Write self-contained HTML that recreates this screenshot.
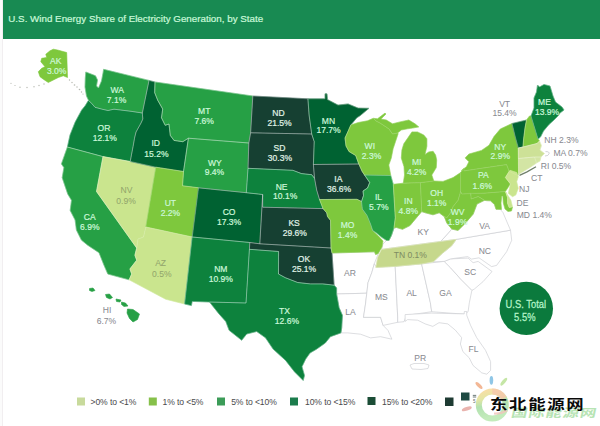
<!DOCTYPE html>
<html><head><meta charset="utf-8"><title>U.S. Wind Energy Share</title>
<style>
html,body{margin:0;padding:0;background:#fff;}
body{width:600px;height:426px;overflow:hidden;position:relative;font-family:"Liberation Sans",sans-serif;}
#hdr{position:absolute;left:3px;top:0;width:597px;height:38.5px;background:#188a52;}
#ttl{position:absolute;left:8.3px;top:12.6px;font-size:9.8px;color:#c8f8d8;white-space:nowrap;letter-spacing:0px;line-height:12px;-webkit-text-stroke:0.22px #c8f8d8;}
#edge{position:absolute;left:0;top:0;width:3px;height:426px;background:#fbfbfb;border-right:1px solid #f1eef0;box-sizing:border-box;}
svg{position:absolute;left:0;top:0;}
.l{font-family:"Liberation Sans",sans-serif;font-size:9.5px;text-anchor:middle;}
.lg{font-family:"Liberation Sans",sans-serif;font-size:8.6px;fill:#4a4a4c;letter-spacing:-0.1px;}
</style></head><body>
<div id="edge"></div>
<div id="hdr"></div>
<div id="ttl">U.S. Wind Energy Share of Electricity Generation, by State</div>
<svg width="600" height="426" viewBox="0 0 600 426">
<defs><filter id="soft" x="0" y="0" width="100%" height="100%" filterUnits="userSpaceOnUse"><feGaussianBlur stdDeviation="0.35"/></filter></defs>
<g id="map" filter="url(#soft)">
<polygon points="332.0,253.0 374.5,251.8 375.6,254.5 378.3,253.5 374.3,263.8 371.8,272.6 368.0,282.7 366.8,293.2 336.6,294.0 336.6,288.0 334.1,285.2" fill="#fff" stroke="#c6c8cc" stroke-width="0.6" stroke-linejoin="round"/>
<polygon points="336.6,294.0 366.8,293.2 365.5,304.0 363.5,317.3 380.6,317.3 383.1,325.4 388.0,330.4 391.9,339.2 380.6,336.7 370.6,337.9 360.5,334.2 347.9,332.9 340.9,332.9 341.7,327.9 342.4,315.3 339.1,307.8" fill="#fff" stroke="#c6c8cc" stroke-width="0.6" stroke-linejoin="round"/>
<polygon points="376.5,267.2 395.2,266.4 397.7,317.0 397.7,322.3 383.1,325.4 380.6,317.3 363.5,317.3 365.5,304.0 366.8,293.2 368.0,282.7 371.8,272.6 374.3,263.8" fill="#fff" stroke="#c6c8cc" stroke-width="0.6" stroke-linejoin="round"/>
<polygon points="395.2,266.4 421.6,263.9 430.4,302.9 431.7,311.7 406.5,315.4 404.0,321.7 397.7,322.3 397.7,317.0" fill="#fff" stroke="#c6c8cc" stroke-width="0.6" stroke-linejoin="round"/>
<polygon points="421.6,263.9 444.2,261.4 450.5,267.7 460.6,279.0 468.1,286.5 471.9,290.3 469.3,302.9 468.1,311.7 464.3,314.2 431.7,311.7 430.4,302.9" fill="#fff" stroke="#c6c8cc" stroke-width="0.6" stroke-linejoin="round"/>
<polygon points="405.1,314.6 431.5,313.1 464.2,313.9 464.3,311.5 466.7,311.5 466.7,315.1 470.5,325.2 476.7,337.7 485.5,350.3 490.6,361.6 490.6,370.4 486.8,374.2 481.8,372.9 473.0,365.4 469.2,357.8 462.9,351.6 460.4,344.0 461.7,337.7 455.4,330.2 447.8,323.9 439.0,322.7 432.8,326.4 425.2,323.9 417.7,320.2 407.6,319.6 405.1,321.4" fill="#fff" stroke="#c6c8cc" stroke-width="0.6" stroke-linejoin="round"/>
<polygon points="444.2,261.4 450.5,258.9 468.1,258.1 473.1,262.7 478.1,261.4 492.0,271.5 483.2,281.5 474.4,289.0 471.9,290.3 468.1,286.5 460.6,279.0 450.5,267.7" fill="#fff" stroke="#c6c8cc" stroke-width="0.6" stroke-linejoin="round"/>
<polygon points="456.2,239.4 510.5,230.2 511.7,240.3 506.7,251.6 496.6,265.4 491.6,266.6 479.0,257.8 471.5,259.1 467.7,256.6 450.5,258.9 444.2,261.4 433.3,261.8 442.5,253.2 451.7,245.8" fill="#fff" stroke="#c6c8cc" stroke-width="0.6" stroke-linejoin="round"/>
<polygon points="456.2,239.4 510.5,230.2 507.0,222.0 503.0,212.6 500.0,209.0 496.0,209.3 494.5,204.5 490.5,200.8 486.0,200.6 484.5,200.3 477.0,204.0 473.2,214.1 465.6,222.9 458.1,230.4 451.8,229.1 440.7,241.5" fill="#fff" stroke="#c6c8cc" stroke-width="0.6" stroke-linejoin="round"/>
<polygon points="386.5,240.5 389.0,240.5 391.5,235.4 394.0,227.9 396.5,227.5 402.5,229.3 410.0,225.5 415.4,219.0 421.7,211.6 425.4,212.8 433.0,214.8 439.2,212.8 444.3,216.6 446.8,222.9 451.8,229.1 440.7,241.5 415.0,244.9 381.5,249.4 383.0,244.0" fill="#fff" stroke="#c6c8cc" stroke-width="0.6" stroke-linejoin="round"/>
<polygon points="410.0,365.0 414.0,363.5 424.0,363.5 429.0,365.0 428.0,368.5 421.0,369.5 412.0,369.0" fill="#fff" stroke="#c6c8cc" stroke-width="0.6" stroke-linejoin="round"/>
<polyline points="519.5,175.3 527.0,171.8 536.0,166.8" fill="none" stroke="#6f7f6a" stroke-width="1.3"/>
<polygon points="85.8,72.0 91.0,74.0 95.5,75.8 97.5,80.0 96.5,86.0 98.5,88.0 101.5,81.0 103.2,72.0 103.6,69.3 149.0,80.4 142.3,113.0 131.0,111.3 123.0,110.3 114.0,109.2 108.0,110.5 102.5,109.3 95.0,107.3 92.0,103.8 88.5,100.3 86.5,96.0 85.0,87.0 85.3,78.0" fill="#27a045" stroke="#27a045" stroke-width="0.6" stroke-linejoin="round"/>
<polygon points="88.5,100.3 92.0,103.8 95.0,107.3 102.5,109.3 108.0,110.5 114.0,109.2 123.0,110.3 131.0,111.3 142.3,113.0 142.8,119.0 141.0,123.0 136.0,132.0 134.5,138.0 133.5,144.0 130.2,161.5 103.0,156.6 67.4,147.0 70.0,135.0 75.2,122.0 81.7,110.0 85.0,106.0" fill="#09823d" stroke="#09823d" stroke-width="0.6" stroke-linejoin="round"/>
<polygon points="67.4,147.0 103.0,156.6 96.5,191.5 136.7,248.0 134.9,255.2 136.7,260.2 129.9,269.0 131.7,274.0 129.1,279.8 107.8,274.0 104.0,265.3 99.0,252.7 87.7,245.2 81.4,240.1 76.4,230.0 75.1,220.0 70.2,210.4 71.5,200.3 67.7,194.0 62.2,177.7 63.9,167.6 61.4,163.9" fill="#27a045" stroke="#27a045" stroke-width="0.6" stroke-linejoin="round"/>
<polygon points="103.0,156.6 130.2,161.5 155.8,167.2 145.8,227.0 143.5,237.1 138.0,238.9 136.7,248.0 96.5,191.5" fill="#cae58e" stroke="#cae58e" stroke-width="0.6" stroke-linejoin="round"/>
<polygon points="149.0,80.4 155.0,82.0 154.7,92.7 157.7,100.2 162.7,109.0 161.5,117.8 165.2,125.3 169.0,124.0 170.3,135.4 174.0,140.4 182.8,141.7 188.4,138.2 183.5,171.5 155.8,167.2 130.2,161.5 133.5,144.0 134.5,138.0 136.0,132.0 141.0,123.0 142.8,119.0 142.3,113.0" fill="#066231" stroke="#066231" stroke-width="0.6" stroke-linejoin="round"/>
<polygon points="155.0,82.0 252.8,96.0 250.6,132.8 248.8,143.0 188.4,138.2 182.8,141.7 174.0,140.4 170.3,135.4 169.0,124.0 165.2,125.3 161.5,117.8 162.7,109.0 157.7,100.2 154.7,92.7" fill="#27a045" stroke="#27a045" stroke-width="0.6" stroke-linejoin="round"/>
<polygon points="188.4,138.2 248.8,143.0 248.0,168.3 246.3,192.7 198.5,187.8 182.5,185.8 183.5,171.5" fill="#27a045" stroke="#27a045" stroke-width="0.6" stroke-linejoin="round"/>
<polygon points="155.8,167.2 183.5,171.5 182.5,185.8 198.5,187.8 192.2,237.0 145.8,227.0" fill="#7ec83c" stroke="#7ec83c" stroke-width="0.6" stroke-linejoin="round"/>
<polygon points="198.5,187.8 246.3,192.7 262.7,194.5 259.8,243.8 249.8,242.5 192.2,237.0" fill="#066231" stroke="#066231" stroke-width="0.6" stroke-linejoin="round"/>
<polygon points="145.8,227.0 192.2,237.0 184.6,304.0 165.6,299.2 129.1,279.8 131.7,274.0 129.9,269.0 136.7,260.2 134.9,255.2 136.7,248.0 138.0,238.9 143.5,237.1" fill="#cae58e" stroke="#cae58e" stroke-width="0.6" stroke-linejoin="round"/>
<polygon points="192.2,237.0 249.8,242.5 249.4,249.3 246.0,303.0 209.5,302.0 192.2,301.4 191.4,305.6 184.6,304.0" fill="#09823d" stroke="#09823d" stroke-width="0.6" stroke-linejoin="round"/>
<polygon points="252.8,96.0 307.9,98.8 309.1,115.2 311.7,134.0 250.6,132.8" fill="#154032" stroke="#154032" stroke-width="0.6" stroke-linejoin="round"/>
<polygon points="250.6,132.8 311.7,134.0 314.2,141.6 313.4,164.5 314.5,178.3 311.7,174.7 301.5,173.6 292.8,170.3 248.0,168.3 248.8,143.0" fill="#154032" stroke="#154032" stroke-width="0.6" stroke-linejoin="round"/>
<polygon points="248.0,168.3 292.8,170.3 301.5,173.6 311.7,174.7 314.5,178.3 316.7,190.2 319.5,199.5 323.0,208.6 262.7,207.2 262.7,194.5 246.3,192.7" fill="#09823d" stroke="#09823d" stroke-width="0.6" stroke-linejoin="round"/>
<polygon points="262.7,207.2 323.0,208.6 326.7,212.8 327.5,216.6 330.5,220.4 331.0,248.0 259.8,243.8 262.7,194.5" fill="#154032" stroke="#154032" stroke-width="0.6" stroke-linejoin="round"/>
<polygon points="249.8,242.5 259.8,243.8 331.0,248.0 332.0,253.0 334.1,285.2 322.8,283.9 310.3,283.9 297.7,282.5 285.3,277.7 278.5,274.0 278.6,251.5 249.4,249.3" fill="#154032" stroke="#154032" stroke-width="0.6" stroke-linejoin="round"/>
<polygon points="249.4,249.3 278.6,251.5 278.5,274.0 285.3,277.7 297.7,282.5 310.3,283.9 322.8,283.9 334.1,285.2 336.6,288.0 336.6,294.0 339.1,307.8 342.4,315.3 341.7,327.9 340.9,332.9 330.4,336.7 325.3,343.0 316.5,349.2 310.0,353.0 305.7,359.1 302.0,366.7 304.5,375.5 303.2,380.5 294.4,371.7 285.6,360.4 273.1,349.1 265.5,337.8 256.7,331.5 246.7,334.0 241.7,340.3 229.1,330.3 225.8,321.5 219.0,313.9 209.5,302.0 246.0,303.0" fill="#09823d" stroke="#09823d" stroke-width="0.6" stroke-linejoin="round"/>
<polygon points="307.9,98.8 325.0,98.8 325.0,93.8 327.0,93.8 327.5,99.6 338.0,105.1 348.1,103.9 358.1,108.1 369.0,108.3 360.0,115.8 356.9,117.7 350.8,125.0 348.3,130.8 345.0,138.0 346.0,146.0 349.0,151.5 355.7,155.5 358.8,164.0 313.4,164.5 314.2,141.6 311.7,134.0 309.1,115.2" fill="#066231" stroke="#066231" stroke-width="0.6" stroke-linejoin="round"/>
<polygon points="313.4,164.5 358.8,164.0 362.2,171.5 369.7,182.5 367.5,188.0 363.0,191.0 363.5,195.5 361.5,201.5 357.0,199.3 319.5,199.5 316.7,190.2 314.5,178.3" fill="#154032" stroke="#154032" stroke-width="0.6" stroke-linejoin="round"/>
<polygon points="319.5,199.5 357.0,199.3 361.5,201.5 362.3,209.0 366.9,215.3 370.5,224.0 372.4,230.4 378.5,236.0 383.0,241.0 382.0,247.0 378.3,253.5 375.6,254.5 374.5,251.8 332.0,253.0 331.0,248.0 330.5,220.4 327.5,216.6 326.7,212.8 323.0,208.6" fill="#7ec83c" stroke="#7ec83c" stroke-width="0.6" stroke-linejoin="round"/>
<polygon points="350.8,125.0 358.3,122.5 367.5,120.8 373.3,118.3 376.0,121.0 380.0,123.0 389.0,128.9 392.5,134.0 397.5,133.1 398.2,133.5 395.6,141.3 393.1,148.8 391.3,158.0 388.8,165.0 390.8,175.5 364.5,175.0 362.2,171.5 358.8,164.0 355.7,155.5 349.0,151.5 346.0,146.0 345.0,138.0 348.3,130.8" fill="#7ec83c" stroke="#7ec83c" stroke-width="0.6" stroke-linejoin="round"/>
<polygon points="373.3,118.3 377.5,118.8 385.0,113.1 386.0,114.0 381.0,119.0 386.3,120.0 392.5,123.8 400.0,121.9 408.8,120.0 415.0,123.8 418.8,126.9 412.5,128.1 407.5,128.8 401.3,130.0 397.5,133.1 392.5,134.0 389.0,128.9 380.0,123.0 376.0,121.0" fill="#7ec83c" stroke="#7ec83c" stroke-width="0.6" stroke-linejoin="round"/>
<polygon points="411.9,131.9 417.5,131.9 423.8,135.0 426.9,138.8 426.9,146.3 425.0,154.4 428.8,151.9 433.1,151.3 435.6,155.0 436.7,160.0 436.3,167.6 431.8,175.0 433.8,181.0 420.4,182.7 403.3,183.0 404.5,175.0 404.0,166.7 401.3,158.0 401.9,150.0 403.8,143.8 408.1,137.5" fill="#7ec83c" stroke="#7ec83c" stroke-width="0.6" stroke-linejoin="round"/>
<polygon points="364.5,175.0 390.8,175.5 393.3,184.3 395.3,217.8 394.0,227.9 391.5,235.4 389.0,240.5 386.5,240.5 382.0,237.6 376.5,233.0 372.7,230.4 370.5,224.0 366.9,215.3 362.3,209.0 361.5,201.5 363.5,195.5 363.0,191.0 367.5,188.0 369.7,182.5" fill="#27a045" stroke="#27a045" stroke-width="0.6" stroke-linejoin="round"/>
<polygon points="393.3,184.3 403.3,183.2 420.4,182.7 421.7,211.6 415.4,219.0 410.0,225.5 402.5,229.3 396.5,227.5 394.0,227.9 395.3,217.8" fill="#7ec83c" stroke="#7ec83c" stroke-width="0.6" stroke-linejoin="round"/>
<polygon points="420.4,182.7 433.8,181.0 443.0,181.4 453.1,177.6 460.6,172.6 460.6,191.5 458.1,200.3 453.1,206.5 450.6,212.8 446.8,217.8 444.3,216.6 439.2,212.8 433.0,214.8 425.4,212.8 421.7,211.6" fill="#7ec83c" stroke="#7ec83c" stroke-width="0.6" stroke-linejoin="round"/>
<polygon points="460.6,191.5 461.8,194.0 470.7,193.2 471.2,199.0 478.2,196.5 484.5,200.3 477.0,204.0 473.2,214.1 465.6,222.9 458.1,230.4 451.8,229.1 446.8,222.9 444.3,216.6 446.8,217.8 450.6,212.8 453.1,206.5 458.1,200.3" fill="#7ec83c" stroke="#7ec83c" stroke-width="0.6" stroke-linejoin="round"/>
<polygon points="460.6,172.6 463.9,168.5 464.5,170.8 506.6,164.6 509.1,171.4 505.4,177.6 510.4,183.9 505.4,191.5 484.0,193.2 461.8,194.0 460.6,191.5" fill="#7ec83c" stroke="#7ec83c" stroke-width="0.6" stroke-linejoin="round"/>
<polygon points="461.4,170.5 466.4,166.7 468.9,161.7 465.1,157.9 468.9,154.1 481.5,150.4 489.0,145.3 494.0,136.5 500.3,129.0 512.0,123.5 515.0,136.0 518.3,148.0 518.4,158.5 518.5,174.5 517.9,175.5 509.1,171.4 506.6,164.6 464.5,170.8" fill="#7ec83c" stroke="#7ec83c" stroke-width="0.6" stroke-linejoin="round"/>
<polygon points="510.0,170.3 516.7,172.5 518.3,176.7 516.7,181.7 518.3,188.3 515.8,195.0 512.5,196.7 508.3,193.3 510.4,183.9 505.4,177.6 509.1,171.4" fill="#cae58e" stroke="#cae58e" stroke-width="0.6" stroke-linejoin="round"/>
<polygon points="484.0,193.2 505.4,191.5 507.5,197.5 507.5,203.3 509.2,207.5 512.5,207.0 511.5,211.0 508.0,211.5 505.0,209.0 503.3,203.0 502.8,196.0 501.8,196.0 501.0,203.0 501.5,209.5 496.0,209.3 494.5,204.5 490.5,200.8 486.0,200.6 484.5,200.3 478.2,196.5 471.2,199.0 470.7,193.2" fill="#7ec83c" stroke="#7ec83c" stroke-width="0.6" stroke-linejoin="round"/>
<polygon points="505.4,191.5 507.5,195.0 510.8,200.0 512.5,206.7 509.2,207.5 507.5,203.3 507.5,197.5" fill="#cae58e" stroke="#cae58e" stroke-width="0.6" stroke-linejoin="round"/>
<polygon points="512.0,123.5 526.5,120.0 525.0,128.0 523.5,140.0 523.0,147.0 518.3,148.0 515.0,136.0" fill="#066231" stroke="#066231" stroke-width="0.6" stroke-linejoin="round"/>
<polygon points="526.5,120.0 529.5,116.0 531.0,116.0 538.0,139.0 539.5,141.0 537.0,143.5 523.0,147.0 523.5,140.0 525.0,128.0" fill="#7ec83c" stroke="#7ec83c" stroke-width="0.6" stroke-linejoin="round"/>
<polygon points="531.0,116.0 534.0,108.0 534.0,98.0 536.5,92.0 537.5,85.0 539.5,87.0 544.0,84.5 550.0,86.0 553.0,96.0 555.5,102.0 562.0,107.0 564.0,110.0 560.0,113.0 558.0,116.0 554.0,120.0 549.0,124.5 543.5,131.0 540.5,137.0 538.0,139.0" fill="#09823d" stroke="#09823d" stroke-width="0.6" stroke-linejoin="round"/>
<polygon points="518.3,148.0 523.0,147.0 537.0,143.5 539.5,141.0 541.5,145.5 540.0,150.0 544.5,153.5 541.0,157.0 534.5,157.0 518.4,158.5" fill="#cde197" stroke="#cde197" stroke-width="0.6" stroke-linejoin="round"/>
<polygon points="518.4,158.5 534.5,157.0 536.5,163.0 530.0,167.5 525.0,170.5 518.5,174.5" fill="#d3e5a4" stroke="#d3e5a4" stroke-width="0.6" stroke-linejoin="round"/>
<polygon points="534.5,157.0 541.0,157.0 540.0,161.0 536.5,163.0" fill="#d3e5a4" stroke="#d3e5a4" stroke-width="0.6" stroke-linejoin="round"/>
<polygon points="375.8,267.5 377.6,257.6 381.5,249.4 415.0,244.9 456.2,239.4 451.7,245.8 442.5,253.2 433.3,261.8 421.6,263.9 395.2,266.4" fill="#c6d88c" stroke="#c6d88c" stroke-width="0.6" stroke-linejoin="round"/>
<polygon points="89.5,288.5 93.0,288.0 95.0,290.5 92.0,291.5 89.5,290.5" fill="#27a045" stroke="#27a045" stroke-width="0.6" stroke-linejoin="round"/>
<polygon points="105.5,294.5 109.5,294.0 112.5,297.5 110.0,299.0 106.5,297.5" fill="#27a045" stroke="#27a045" stroke-width="0.6" stroke-linejoin="round"/>
<polygon points="116.0,299.0 121.0,300.0 120.0,302.0 116.5,301.5" fill="#27a045" stroke="#27a045" stroke-width="0.6" stroke-linejoin="round"/>
<polygon points="121.5,302.0 125.5,303.0 128.0,306.0 124.0,306.5 121.5,304.5" fill="#27a045" stroke="#27a045" stroke-width="0.6" stroke-linejoin="round"/>
<polygon points="127.5,309.0 133.0,309.5 139.5,314.0 137.5,319.5 133.0,322.0 129.5,318.5 127.0,313.0" fill="#27a045" stroke="#27a045" stroke-width="0.6" stroke-linejoin="round"/>
<polygon points="53.3,49.2 57.5,50.0 66.7,52.5 67.5,77.5 63.3,75.8 58.3,77.5 53.3,80.0 48.3,82.5 43.3,79.2 40.0,76.7 38.3,71.7 41.7,68.3 45.0,66.7 40.8,61.7 41.7,58.3 46.7,57.5 45.8,54.2 50.0,50.8" fill="#7ec83c" stroke="#7ec83c" stroke-width="0.6" stroke-linejoin="round"/>
<polygon points="85.8,72.0 91.0,74.0 95.5,75.8 97.5,80.0 96.5,86.0 98.5,88.0 101.5,81.0 103.2,72.0 103.6,69.3 149.0,80.4 142.3,113.0 131.0,111.3 123.0,110.3 114.0,109.2 108.0,110.5 102.5,109.3 95.0,107.3 92.0,103.8 88.5,100.3 86.5,96.0 85.0,87.0 85.3,78.0" fill="none" stroke="#ffffff" stroke-opacity="0.36" stroke-width="0.7" stroke-linejoin="round"/>
<polygon points="88.5,100.3 92.0,103.8 95.0,107.3 102.5,109.3 108.0,110.5 114.0,109.2 123.0,110.3 131.0,111.3 142.3,113.0 142.8,119.0 141.0,123.0 136.0,132.0 134.5,138.0 133.5,144.0 130.2,161.5 103.0,156.6 67.4,147.0 70.0,135.0 75.2,122.0 81.7,110.0 85.0,106.0" fill="none" stroke="#ffffff" stroke-opacity="0.36" stroke-width="0.7" stroke-linejoin="round"/>
<polygon points="67.4,147.0 103.0,156.6 96.5,191.5 136.7,248.0 134.9,255.2 136.7,260.2 129.9,269.0 131.7,274.0 129.1,279.8 107.8,274.0 104.0,265.3 99.0,252.7 87.7,245.2 81.4,240.1 76.4,230.0 75.1,220.0 70.2,210.4 71.5,200.3 67.7,194.0 62.2,177.7 63.9,167.6 61.4,163.9" fill="none" stroke="#ffffff" stroke-opacity="0.36" stroke-width="0.7" stroke-linejoin="round"/>
<polygon points="103.0,156.6 130.2,161.5 155.8,167.2 145.8,227.0 143.5,237.1 138.0,238.9 136.7,248.0 96.5,191.5" fill="none" stroke="#ffffff" stroke-opacity="0.13" stroke-width="0.7" stroke-linejoin="round"/>
<polygon points="149.0,80.4 155.0,82.0 154.7,92.7 157.7,100.2 162.7,109.0 161.5,117.8 165.2,125.3 169.0,124.0 170.3,135.4 174.0,140.4 182.8,141.7 188.4,138.2 183.5,171.5 155.8,167.2 130.2,161.5 133.5,144.0 134.5,138.0 136.0,132.0 141.0,123.0 142.8,119.0 142.3,113.0" fill="none" stroke="#ffffff" stroke-opacity="0.36" stroke-width="0.7" stroke-linejoin="round"/>
<polygon points="155.0,82.0 252.8,96.0 250.6,132.8 248.8,143.0 188.4,138.2 182.8,141.7 174.0,140.4 170.3,135.4 169.0,124.0 165.2,125.3 161.5,117.8 162.7,109.0 157.7,100.2 154.7,92.7" fill="none" stroke="#ffffff" stroke-opacity="0.36" stroke-width="0.7" stroke-linejoin="round"/>
<polygon points="188.4,138.2 248.8,143.0 248.0,168.3 246.3,192.7 198.5,187.8 182.5,185.8 183.5,171.5" fill="none" stroke="#ffffff" stroke-opacity="0.36" stroke-width="0.7" stroke-linejoin="round"/>
<polygon points="155.8,167.2 183.5,171.5 182.5,185.8 198.5,187.8 192.2,237.0 145.8,227.0" fill="none" stroke="#ffffff" stroke-opacity="0.13" stroke-width="0.7" stroke-linejoin="round"/>
<polygon points="198.5,187.8 246.3,192.7 262.7,194.5 259.8,243.8 249.8,242.5 192.2,237.0" fill="none" stroke="#ffffff" stroke-opacity="0.36" stroke-width="0.7" stroke-linejoin="round"/>
<polygon points="145.8,227.0 192.2,237.0 184.6,304.0 165.6,299.2 129.1,279.8 131.7,274.0 129.9,269.0 136.7,260.2 134.9,255.2 136.7,248.0 138.0,238.9 143.5,237.1" fill="none" stroke="#ffffff" stroke-opacity="0.13" stroke-width="0.7" stroke-linejoin="round"/>
<polygon points="192.2,237.0 249.8,242.5 249.4,249.3 246.0,303.0 209.5,302.0 192.2,301.4 191.4,305.6 184.6,304.0" fill="none" stroke="#ffffff" stroke-opacity="0.36" stroke-width="0.7" stroke-linejoin="round"/>
<polygon points="252.8,96.0 307.9,98.8 309.1,115.2 311.7,134.0 250.6,132.8" fill="none" stroke="#ffffff" stroke-opacity="0.36" stroke-width="0.7" stroke-linejoin="round"/>
<polygon points="250.6,132.8 311.7,134.0 314.2,141.6 313.4,164.5 314.5,178.3 311.7,174.7 301.5,173.6 292.8,170.3 248.0,168.3 248.8,143.0" fill="none" stroke="#ffffff" stroke-opacity="0.36" stroke-width="0.7" stroke-linejoin="round"/>
<polygon points="248.0,168.3 292.8,170.3 301.5,173.6 311.7,174.7 314.5,178.3 316.7,190.2 319.5,199.5 323.0,208.6 262.7,207.2 262.7,194.5 246.3,192.7" fill="none" stroke="#ffffff" stroke-opacity="0.36" stroke-width="0.7" stroke-linejoin="round"/>
<polygon points="262.7,207.2 323.0,208.6 326.7,212.8 327.5,216.6 330.5,220.4 331.0,248.0 259.8,243.8 262.7,194.5" fill="none" stroke="#ffffff" stroke-opacity="0.36" stroke-width="0.7" stroke-linejoin="round"/>
<polygon points="249.8,242.5 259.8,243.8 331.0,248.0 332.0,253.0 334.1,285.2 322.8,283.9 310.3,283.9 297.7,282.5 285.3,277.7 278.5,274.0 278.6,251.5 249.4,249.3" fill="none" stroke="#ffffff" stroke-opacity="0.36" stroke-width="0.7" stroke-linejoin="round"/>
<polygon points="249.4,249.3 278.6,251.5 278.5,274.0 285.3,277.7 297.7,282.5 310.3,283.9 322.8,283.9 334.1,285.2 336.6,288.0 336.6,294.0 339.1,307.8 342.4,315.3 341.7,327.9 340.9,332.9 330.4,336.7 325.3,343.0 316.5,349.2 310.0,353.0 305.7,359.1 302.0,366.7 304.5,375.5 303.2,380.5 294.4,371.7 285.6,360.4 273.1,349.1 265.5,337.8 256.7,331.5 246.7,334.0 241.7,340.3 229.1,330.3 225.8,321.5 219.0,313.9 209.5,302.0 246.0,303.0" fill="none" stroke="#ffffff" stroke-opacity="0.36" stroke-width="0.7" stroke-linejoin="round"/>
<polygon points="307.9,98.8 325.0,98.8 325.0,93.8 327.0,93.8 327.5,99.6 338.0,105.1 348.1,103.9 358.1,108.1 369.0,108.3 360.0,115.8 356.9,117.7 350.8,125.0 348.3,130.8 345.0,138.0 346.0,146.0 349.0,151.5 355.7,155.5 358.8,164.0 313.4,164.5 314.2,141.6 311.7,134.0 309.1,115.2" fill="none" stroke="#ffffff" stroke-opacity="0.36" stroke-width="0.7" stroke-linejoin="round"/>
<polygon points="313.4,164.5 358.8,164.0 362.2,171.5 369.7,182.5 367.5,188.0 363.0,191.0 363.5,195.5 361.5,201.5 357.0,199.3 319.5,199.5 316.7,190.2 314.5,178.3" fill="none" stroke="#ffffff" stroke-opacity="0.36" stroke-width="0.7" stroke-linejoin="round"/>
<polygon points="319.5,199.5 357.0,199.3 361.5,201.5 362.3,209.0 366.9,215.3 370.5,224.0 372.4,230.4 378.5,236.0 383.0,241.0 382.0,247.0 378.3,253.5 375.6,254.5 374.5,251.8 332.0,253.0 331.0,248.0 330.5,220.4 327.5,216.6 326.7,212.8 323.0,208.6" fill="none" stroke="#ffffff" stroke-opacity="0.13" stroke-width="0.7" stroke-linejoin="round"/>
<polygon points="350.8,125.0 358.3,122.5 367.5,120.8 373.3,118.3 376.0,121.0 380.0,123.0 389.0,128.9 392.5,134.0 397.5,133.1 398.2,133.5 395.6,141.3 393.1,148.8 391.3,158.0 388.8,165.0 390.8,175.5 364.5,175.0 362.2,171.5 358.8,164.0 355.7,155.5 349.0,151.5 346.0,146.0 345.0,138.0 348.3,130.8" fill="none" stroke="#ffffff" stroke-opacity="0.13" stroke-width="0.7" stroke-linejoin="round"/>
<polygon points="373.3,118.3 377.5,118.8 385.0,113.1 386.0,114.0 381.0,119.0 386.3,120.0 392.5,123.8 400.0,121.9 408.8,120.0 415.0,123.8 418.8,126.9 412.5,128.1 407.5,128.8 401.3,130.0 397.5,133.1 392.5,134.0 389.0,128.9 380.0,123.0 376.0,121.0" fill="none" stroke="#ffffff" stroke-opacity="0.13" stroke-width="0.7" stroke-linejoin="round"/>
<polygon points="411.9,131.9 417.5,131.9 423.8,135.0 426.9,138.8 426.9,146.3 425.0,154.4 428.8,151.9 433.1,151.3 435.6,155.0 436.7,160.0 436.3,167.6 431.8,175.0 433.8,181.0 420.4,182.7 403.3,183.0 404.5,175.0 404.0,166.7 401.3,158.0 401.9,150.0 403.8,143.8 408.1,137.5" fill="none" stroke="#ffffff" stroke-opacity="0.13" stroke-width="0.7" stroke-linejoin="round"/>
<polygon points="364.5,175.0 390.8,175.5 393.3,184.3 395.3,217.8 394.0,227.9 391.5,235.4 389.0,240.5 386.5,240.5 382.0,237.6 376.5,233.0 372.7,230.4 370.5,224.0 366.9,215.3 362.3,209.0 361.5,201.5 363.5,195.5 363.0,191.0 367.5,188.0 369.7,182.5" fill="none" stroke="#ffffff" stroke-opacity="0.36" stroke-width="0.7" stroke-linejoin="round"/>
<polygon points="393.3,184.3 403.3,183.2 420.4,182.7 421.7,211.6 415.4,219.0 410.0,225.5 402.5,229.3 396.5,227.5 394.0,227.9 395.3,217.8" fill="none" stroke="#ffffff" stroke-opacity="0.13" stroke-width="0.7" stroke-linejoin="round"/>
<polygon points="420.4,182.7 433.8,181.0 443.0,181.4 453.1,177.6 460.6,172.6 460.6,191.5 458.1,200.3 453.1,206.5 450.6,212.8 446.8,217.8 444.3,216.6 439.2,212.8 433.0,214.8 425.4,212.8 421.7,211.6" fill="none" stroke="#ffffff" stroke-opacity="0.13" stroke-width="0.7" stroke-linejoin="round"/>
<polygon points="460.6,191.5 461.8,194.0 470.7,193.2 471.2,199.0 478.2,196.5 484.5,200.3 477.0,204.0 473.2,214.1 465.6,222.9 458.1,230.4 451.8,229.1 446.8,222.9 444.3,216.6 446.8,217.8 450.6,212.8 453.1,206.5 458.1,200.3" fill="none" stroke="#ffffff" stroke-opacity="0.13" stroke-width="0.7" stroke-linejoin="round"/>
<polygon points="460.6,172.6 463.9,168.5 464.5,170.8 506.6,164.6 509.1,171.4 505.4,177.6 510.4,183.9 505.4,191.5 484.0,193.2 461.8,194.0 460.6,191.5" fill="none" stroke="#ffffff" stroke-opacity="0.13" stroke-width="0.7" stroke-linejoin="round"/>
<polygon points="461.4,170.5 466.4,166.7 468.9,161.7 465.1,157.9 468.9,154.1 481.5,150.4 489.0,145.3 494.0,136.5 500.3,129.0 512.0,123.5 515.0,136.0 518.3,148.0 518.4,158.5 518.5,174.5 517.9,175.5 509.1,171.4 506.6,164.6 464.5,170.8" fill="none" stroke="#ffffff" stroke-opacity="0.13" stroke-width="0.7" stroke-linejoin="round"/>
<polygon points="510.0,170.3 516.7,172.5 518.3,176.7 516.7,181.7 518.3,188.3 515.8,195.0 512.5,196.7 508.3,193.3 510.4,183.9 505.4,177.6 509.1,171.4" fill="none" stroke="#ffffff" stroke-opacity="0.13" stroke-width="0.7" stroke-linejoin="round"/>
<polygon points="484.0,193.2 505.4,191.5 507.5,197.5 507.5,203.3 509.2,207.5 512.5,207.0 511.5,211.0 508.0,211.5 505.0,209.0 503.3,203.0 502.8,196.0 501.8,196.0 501.0,203.0 501.5,209.5 496.0,209.3 494.5,204.5 490.5,200.8 486.0,200.6 484.5,200.3 478.2,196.5 471.2,199.0 470.7,193.2" fill="none" stroke="#ffffff" stroke-opacity="0.13" stroke-width="0.7" stroke-linejoin="round"/>
<polygon points="505.4,191.5 507.5,195.0 510.8,200.0 512.5,206.7 509.2,207.5 507.5,203.3 507.5,197.5" fill="none" stroke="#ffffff" stroke-opacity="0.13" stroke-width="0.7" stroke-linejoin="round"/>
<polygon points="512.0,123.5 526.5,120.0 525.0,128.0 523.5,140.0 523.0,147.0 518.3,148.0 515.0,136.0" fill="none" stroke="#ffffff" stroke-opacity="0.36" stroke-width="0.7" stroke-linejoin="round"/>
<polygon points="526.5,120.0 529.5,116.0 531.0,116.0 538.0,139.0 539.5,141.0 537.0,143.5 523.0,147.0 523.5,140.0 525.0,128.0" fill="none" stroke="#ffffff" stroke-opacity="0.13" stroke-width="0.7" stroke-linejoin="round"/>
<polygon points="531.0,116.0 534.0,108.0 534.0,98.0 536.5,92.0 537.5,85.0 539.5,87.0 544.0,84.5 550.0,86.0 553.0,96.0 555.5,102.0 562.0,107.0 564.0,110.0 560.0,113.0 558.0,116.0 554.0,120.0 549.0,124.5 543.5,131.0 540.5,137.0 538.0,139.0" fill="none" stroke="#ffffff" stroke-opacity="0.36" stroke-width="0.7" stroke-linejoin="round"/>
<polygon points="518.3,148.0 523.0,147.0 537.0,143.5 539.5,141.0 541.5,145.5 540.0,150.0 544.5,153.5 541.0,157.0 534.5,157.0 518.4,158.5" fill="none" stroke="#ffffff" stroke-opacity="0.36" stroke-width="0.7" stroke-linejoin="round"/>
<polygon points="518.4,158.5 534.5,157.0 536.5,163.0 530.0,167.5 525.0,170.5 518.5,174.5" fill="none" stroke="#ffffff" stroke-opacity="0.13" stroke-width="0.7" stroke-linejoin="round"/>
<polygon points="534.5,157.0 541.0,157.0 540.0,161.0 536.5,163.0" fill="none" stroke="#ffffff" stroke-opacity="0.13" stroke-width="0.7" stroke-linejoin="round"/>
<polygon points="375.8,267.5 377.6,257.6 381.5,249.4 415.0,244.9 456.2,239.4 451.7,245.8 442.5,253.2 433.3,261.8 421.6,263.9 395.2,266.4" fill="none" stroke="#ffffff" stroke-opacity="0.36" stroke-width="0.7" stroke-linejoin="round"/>
</g>
<g id="dots" fill="#b5b8b0">
<circle cx="69.5" cy="80" r="0.7"/><circle cx="72" cy="82.5" r="0.7"/><circle cx="74.5" cy="85" r="0.8"/><circle cx="77" cy="87" r="0.7"/><circle cx="79.5" cy="89.5" r="0.8"/><circle cx="81.5" cy="92" r="0.7"/><circle cx="83" cy="94" r="0.6"/>
<circle cx="44" cy="84" r="0.7"/><circle cx="39" cy="85.5" r="0.7"/><circle cx="34" cy="86.8" r="0.7"/><circle cx="27" cy="87.5" r="0.7"/><circle cx="20" cy="87.3" r="0.7"/><circle cx="15" cy="85.5" r="0.6"/><circle cx="11" cy="83.3" r="0.6"/>
</g>
<path d="M545.5,151.6 Q549.6,151.4 549.1,153.8 Q548.3,156 545,156" fill="none" stroke="#b4b5bc" stroke-width="0.6"/>
<circle cx="526.3" cy="308.4" r="26.7" fill="#0b7a3d"/>
<text transform="translate(525.8,307.6) scale(0.87,1)" text-anchor="middle" font-size="10.8" fill="#b4f3c8" stroke="#b4f3c8" stroke-width="0.25">U.S. Total</text>
<text transform="translate(524.8,321.4) scale(0.87,1)" text-anchor="middle" font-size="10.8" fill="#b4f3c8" stroke="#b4f3c8" stroke-width="0.25">5.5%</text>
<g id="labels">
<text transform="translate(55.8,64.1) scale(0.900,1)" class="l" fill="#cdf8da" stroke="#cdf8da" stroke-width="0.22">AK</text>
<text transform="translate(56.7,74.1) scale(0.900,1)" class="l" fill="#cdf8da" stroke="#cdf8da" stroke-width="0.22">3.0%</text>
<text transform="translate(117.3,93.3) scale(0.900,1)" class="l" fill="#cdf8da" stroke="#cdf8da" stroke-width="0.22">WA</text>
<text transform="translate(116.5,103.1) scale(0.900,1)" class="l" fill="#cdf8da" stroke="#cdf8da" stroke-width="0.22">7.1%</text>
<text transform="translate(103.9,130.8) scale(0.900,1)" class="l" fill="#cdf8da" stroke="#cdf8da" stroke-width="0.22">OR</text>
<text transform="translate(104.8,141.4) scale(0.900,1)" class="l" fill="#cdf8da" stroke="#cdf8da" stroke-width="0.22">12.1%</text>
<text transform="translate(155.7,146.2) scale(0.900,1)" class="l" fill="#cdf8da" stroke="#cdf8da" stroke-width="0.22">ID</text>
<text transform="translate(156.4,156.8) scale(0.900,1)" class="l" fill="#cdf8da" stroke="#cdf8da" stroke-width="0.22">15.2%</text>
<text transform="translate(204.2,113.6) scale(0.900,1)" class="l" fill="#cdf8da" stroke="#cdf8da" stroke-width="0.22">MT</text>
<text transform="translate(204.2,123.6) scale(0.900,1)" class="l" fill="#cdf8da" stroke="#cdf8da" stroke-width="0.22">7.6%</text>
<text transform="translate(214.9,165.5) scale(0.900,1)" class="l" fill="#cdf8da" stroke="#cdf8da" stroke-width="0.22">WY</text>
<text transform="translate(214.4,175.0) scale(0.900,1)" class="l" fill="#cdf8da" stroke="#cdf8da" stroke-width="0.22">9.4%</text>
<text transform="translate(126.5,192.5) scale(0.900,1)" class="l" fill="#92a56c" stroke="#92a56c" stroke-width="0.05">NV</text>
<text transform="translate(126.0,203.5) scale(0.900,1)" class="l" fill="#92a56c" stroke="#92a56c" stroke-width="0.05">0.9%</text>
<text transform="translate(170.4,206.2) scale(0.900,1)" class="l" fill="#cdf8da" stroke="#cdf8da" stroke-width="0.22">UT</text>
<text transform="translate(170.4,215.7) scale(0.900,1)" class="l" fill="#cdf8da" stroke="#cdf8da" stroke-width="0.22">2.2%</text>
<text transform="translate(229.1,215.4) scale(0.900,1)" class="l" fill="#cdf8da" stroke="#cdf8da" stroke-width="0.22">CO</text>
<text transform="translate(229.1,225.4) scale(0.900,1)" class="l" fill="#cdf8da" stroke="#cdf8da" stroke-width="0.22">17.3%</text>
<text transform="translate(89.8,219.9) scale(0.900,1)" class="l" fill="#cdf8da" stroke="#cdf8da" stroke-width="0.22">CA</text>
<text transform="translate(89.8,230.0) scale(0.900,1)" class="l" fill="#cdf8da" stroke="#cdf8da" stroke-width="0.22">6.9%</text>
<text transform="translate(160.6,266.0) scale(0.900,1)" class="l" fill="#92a56c" stroke="#92a56c" stroke-width="0.05">AZ</text>
<text transform="translate(161.8,276.6) scale(0.900,1)" class="l" fill="#92a56c" stroke="#92a56c" stroke-width="0.05">0.5%</text>
<text transform="translate(220.8,271.6) scale(0.900,1)" class="l" fill="#cdf8da" stroke="#cdf8da" stroke-width="0.22">NM</text>
<text transform="translate(220.8,282.4) scale(0.900,1)" class="l" fill="#cdf8da" stroke="#cdf8da" stroke-width="0.22">10.9%</text>
<text transform="translate(284.4,314.0) scale(0.900,1)" class="l" fill="#cdf8da" stroke="#cdf8da" stroke-width="0.22">TX</text>
<text transform="translate(286.9,323.7) scale(0.900,1)" class="l" fill="#cdf8da" stroke="#cdf8da" stroke-width="0.22">12.6%</text>
<text transform="translate(304.0,262.1) scale(0.900,1)" class="l" fill="#e0f4e8" stroke="#e0f4e8" stroke-width="0.22">OK</text>
<text transform="translate(304.0,271.6) scale(0.900,1)" class="l" fill="#e0f4e8" stroke="#e0f4e8" stroke-width="0.22">25.1%</text>
<text transform="translate(294.1,226.2) scale(0.900,1)" class="l" fill="#e0f4e8" stroke="#e0f4e8" stroke-width="0.22">KS</text>
<text transform="translate(294.8,235.9) scale(0.900,1)" class="l" fill="#e0f4e8" stroke="#e0f4e8" stroke-width="0.22">29.6%</text>
<text transform="translate(281.6,189.5) scale(0.900,1)" class="l" fill="#cdf8da" stroke="#cdf8da" stroke-width="0.22">NE</text>
<text transform="translate(285.2,199.3) scale(0.900,1)" class="l" fill="#cdf8da" stroke="#cdf8da" stroke-width="0.22">10.1%</text>
<text transform="translate(279.5,151.1) scale(0.900,1)" class="l" fill="#e0f4e8" stroke="#e0f4e8" stroke-width="0.22">SD</text>
<text transform="translate(279.9,160.9) scale(0.900,1)" class="l" fill="#e0f4e8" stroke="#e0f4e8" stroke-width="0.22">30.3%</text>
<text transform="translate(278.4,115.8) scale(0.900,1)" class="l" fill="#e0f4e8" stroke="#e0f4e8" stroke-width="0.22">ND</text>
<text transform="translate(279.6,125.8) scale(0.900,1)" class="l" fill="#e0f4e8" stroke="#e0f4e8" stroke-width="0.22">21.5%</text>
<text transform="translate(328.5,123.6) scale(0.900,1)" class="l" fill="#cdf8da" stroke="#cdf8da" stroke-width="0.22">MN</text>
<text transform="translate(328.5,133.3) scale(0.900,1)" class="l" fill="#cdf8da" stroke="#cdf8da" stroke-width="0.22">17.7%</text>
<text transform="translate(338.4,181.9) scale(0.900,1)" class="l" fill="#e0f4e8" stroke="#e0f4e8" stroke-width="0.22">IA</text>
<text transform="translate(339.0,191.9) scale(0.900,1)" class="l" fill="#e0f4e8" stroke="#e0f4e8" stroke-width="0.22">36.6%</text>
<text transform="translate(347.6,228.2) scale(0.900,1)" class="l" fill="#cdf8da" stroke="#cdf8da" stroke-width="0.22">MO</text>
<text transform="translate(347.6,238.2) scale(0.900,1)" class="l" fill="#cdf8da" stroke="#cdf8da" stroke-width="0.22">1.4%</text>
<text transform="translate(369.8,149.1) scale(0.900,1)" class="l" fill="#cdf8da" stroke="#cdf8da" stroke-width="0.22">WI</text>
<text transform="translate(371.6,159.3) scale(0.900,1)" class="l" fill="#cdf8da" stroke="#cdf8da" stroke-width="0.22">2.3%</text>
<text transform="translate(378.5,200.3) scale(0.900,1)" class="l" fill="#cdf8da" stroke="#cdf8da" stroke-width="0.22">IL</text>
<text transform="translate(378.8,210.3) scale(0.900,1)" class="l" fill="#cdf8da" stroke="#cdf8da" stroke-width="0.22">5.7%</text>
<text transform="translate(416.7,164.9) scale(0.900,1)" class="l" fill="#cdf8da" stroke="#cdf8da" stroke-width="0.22">MI</text>
<text transform="translate(416.7,174.9) scale(0.900,1)" class="l" fill="#cdf8da" stroke="#cdf8da" stroke-width="0.22">4.2%</text>
<text transform="translate(408.3,204.2) scale(0.900,1)" class="l" fill="#cdf8da" stroke="#cdf8da" stroke-width="0.22">IN</text>
<text transform="translate(408.3,214.1) scale(0.900,1)" class="l" fill="#cdf8da" stroke="#cdf8da" stroke-width="0.22">4.8%</text>
<text transform="translate(436.7,196.0) scale(0.900,1)" class="l" fill="#cdf8da" stroke="#cdf8da" stroke-width="0.22">OH</text>
<text transform="translate(436.7,206.1) scale(0.900,1)" class="l" fill="#cdf8da" stroke="#cdf8da" stroke-width="0.22">1.1%</text>
<text transform="translate(457.5,214.6) scale(0.900,1)" class="l" fill="#cdf8da" stroke="#cdf8da" stroke-width="0.22">WV</text>
<text transform="translate(457.5,224.7) scale(0.900,1)" class="l" fill="#cdf8da" stroke="#cdf8da" stroke-width="0.22">1.9%</text>
<text transform="translate(483.3,178.4) scale(0.900,1)" class="l" fill="#cdf8da" stroke="#cdf8da" stroke-width="0.22">PA</text>
<text transform="translate(482.3,189.2) scale(0.900,1)" class="l" fill="#cdf8da" stroke="#cdf8da" stroke-width="0.22">1.6%</text>
<text transform="translate(500.3,149.9) scale(0.900,1)" class="l" fill="#cdf8da" stroke="#cdf8da" stroke-width="0.22">NY</text>
<text transform="translate(500.3,158.9) scale(0.900,1)" class="l" fill="#cdf8da" stroke="#cdf8da" stroke-width="0.22">2.9%</text>
<text transform="translate(544.5,104.8) scale(0.900,1)" class="l" fill="#cdf8da" stroke="#cdf8da" stroke-width="0.22">ME</text>
<text transform="translate(547.0,115.3) scale(0.900,1)" class="l" fill="#cdf8da" stroke="#cdf8da" stroke-width="0.22">13.9%</text>
<text transform="translate(504.6,107.2) scale(0.900,1)" class="l" fill="#898a90" stroke="#898a90" stroke-width="0.05">VT</text>
<text transform="translate(504.6,116.2) scale(0.900,1)" class="l" fill="#898a90" stroke="#898a90" stroke-width="0.05">15.4%</text>
<text transform="translate(107.0,313.3) scale(0.900,1)" class="l" fill="#898a90" stroke="#898a90" stroke-width="0.05">HI</text>
<text transform="translate(106.4,323.6) scale(0.900,1)" class="l" fill="#898a90" stroke="#898a90" stroke-width="0.05">6.7%</text>
<text transform="translate(561.4,143.1) scale(0.900,1)" class="l" fill="#898a90" stroke="#898a90" stroke-width="0.05">NH 2.3%</text>
<text transform="translate(570.5,156.2) scale(0.900,1)" class="l" fill="#898a90" stroke="#898a90" stroke-width="0.05">MA 0.7%</text>
<text transform="translate(556.0,169.3) scale(0.900,1)" class="l" fill="#898a90" stroke="#898a90" stroke-width="0.05">RI 0.5%</text>
<text transform="translate(536.7,180.8) scale(0.900,1)" class="l" fill="#898a90" stroke="#898a90" stroke-width="0.05">CT</text>
<text transform="translate(524.2,192.3) scale(0.900,1)" class="l" fill="#898a90" stroke="#898a90" stroke-width="0.05">NJ</text>
<text transform="translate(522.5,206.1) scale(0.900,1)" class="l" fill="#898a90" stroke="#898a90" stroke-width="0.05">DE</text>
<text transform="translate(534.3,218.1) scale(0.900,1)" class="l" fill="#898a90" stroke="#898a90" stroke-width="0.05">MD 1.4%</text>
<text transform="translate(484.6,228.9) scale(0.900,1)" class="l" fill="#898a90" stroke="#898a90" stroke-width="0.05">VA</text>
<text transform="translate(484.8,253.6) scale(0.900,1)" class="l" fill="#898a90" stroke="#898a90" stroke-width="0.05">NC</text>
<text transform="translate(470.3,275.0) scale(0.900,1)" class="l" fill="#898a90" stroke="#898a90" stroke-width="0.05">SC</text>
<text transform="translate(423.2,235.4) scale(0.900,1)" class="l" fill="#898a90" stroke="#898a90" stroke-width="0.05">KY</text>
<text transform="translate(445.5,296.1) scale(0.900,1)" class="l" fill="#898a90" stroke="#898a90" stroke-width="0.05">GA</text>
<text transform="translate(411.6,296.1) scale(0.900,1)" class="l" fill="#898a90" stroke="#898a90" stroke-width="0.05">AL</text>
<text transform="translate(381.4,299.9) scale(0.900,1)" class="l" fill="#898a90" stroke="#898a90" stroke-width="0.05">MS</text>
<text transform="translate(410.3,258.4) scale(0.900,1)" class="l" fill="#7f8c63" stroke="#7f8c63" stroke-width="0.05">TN 0.1%</text>
<text transform="translate(350.0,275.9) scale(0.900,1)" class="l" fill="#898a90" stroke="#898a90" stroke-width="0.05">AR</text>
<text transform="translate(350.5,314.9) scale(0.900,1)" class="l" fill="#898a90" stroke="#898a90" stroke-width="0.05">LA</text>
<text transform="translate(473.5,351.6) scale(0.900,1)" class="l" fill="#898a90" stroke="#898a90" stroke-width="0.05">FL</text>
<text transform="translate(420.2,360.6) scale(0.900,1)" class="l" fill="#898a90" stroke="#898a90" stroke-width="0.05">PR</text>
</g>
<g id="legend">
<rect x="77" y="397.5" width="8" height="8" fill="#c8da9c"/><text x="90.5" y="405" class="lg">&gt;0% to &lt;1%</text>
<rect x="148.8" y="397.5" width="8" height="8" fill="#86c04a"/><text x="162.5" y="405" class="lg">1% to &lt;5%</text>
<rect x="217" y="397.5" width="8" height="8" fill="#3c9c58"/><text x="231.2" y="405" class="lg">5% to &lt;10%</text>
<rect x="290" y="397.5" width="8" height="8" fill="#1b7c4c"/><text x="305" y="405" class="lg">10% to &lt;15%</text>
<rect x="367.5" y="397" width="8" height="8" fill="#1b4d36"/><text x="382" y="405" class="lg">15% to &lt;20%</text>
<rect x="445" y="397.5" width="8.5" height="8.5" fill="#1e3b33"/>
<rect x="461" y="392.5" width="8.5" height="8" fill="#1e4a42"/>
</g>
<g id="wm">
<defs><linearGradient id="rg" x1="0" y1="0" x2="0.25" y2="1"><stop offset="0" stop-color="#f9dea6"/><stop offset="0.3" stop-color="#e3e6a4"/><stop offset="0.55" stop-color="#b3e2b0"/><stop offset="1" stop-color="#c3ebbb"/></linearGradient></defs>
<circle cx="492.3" cy="405" r="13.5" fill="none" stroke="url(#rg)" stroke-width="6"/>
<path d="M492.3,391.5 A13.5,13.5 0 0 1 504,398.2" fill="none" stroke="#f6c8ab" stroke-width="6" opacity="0.85"/>
<path d="M494,413.5 Q501,414 507,410.5" fill="none" stroke="#f3c3bb" stroke-width="2.2" opacity="0.8"/>
<ellipse cx="479" cy="385.5" rx="4.6" ry="1.7" transform="rotate(45 479 385.5)" fill="#f3b795"/>
<ellipse cx="491.4" cy="380.3" rx="1.8" ry="4.4" fill="#8fc6e6"/>
<ellipse cx="503.8" cy="381.7" rx="4.8" ry="1.7" transform="rotate(-50 503.8 381.7)" fill="#c5e6a6"/>
<ellipse cx="466.8" cy="408.8" rx="5.2" ry="1.8" transform="rotate(-18 466.8 408.8)" fill="#e9b3ae"/>
<rect x="472.8" y="394.9" width="3.4" height="0.8" fill="#4a5a58"/><rect x="472.8" y="396.6" width="3.4" height="0.8" fill="#4a5a58"/>
<text x="473" y="402.8" font-size="4.6" fill="#5a6a68">5</text>
<text transform="translate(510.5,417.4) skewX(-12) scale(1,0.705)" x="0" y="0" font-family="'Liberation Sans','Noto Sans CJK SC',sans-serif" font-size="16.3" font-weight="bold" letter-spacing="0.9" fill="#b7e4b4">国际能源网</text>
<text transform="translate(490.0,408.7) scale(1,0.805)" x="0" y="0" font-family="'Liberation Sans','Noto Sans CJK SC',sans-serif" font-size="17.4" font-weight="bold" letter-spacing="1.7" fill="#0a0a0a">东北能源网</text>
</g>
</svg>
</body></html>
